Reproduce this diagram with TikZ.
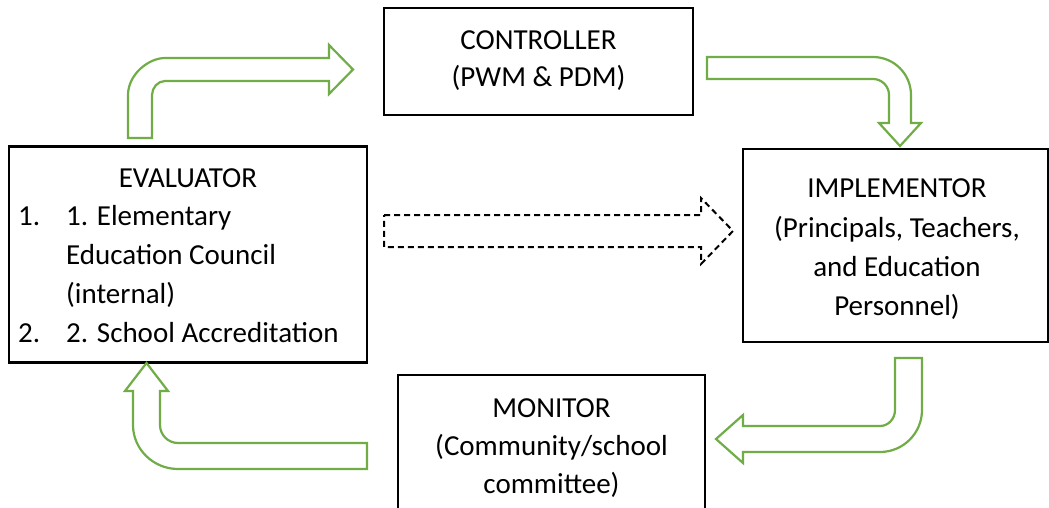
\documentclass[tikz,border=0pt]{standalone}
\usepackage{fontspec}
\setmainfont{Carlito}
\begin{document}
\begin{tikzpicture}[x=1pt,y=-1pt,
  box/.style={draw=black,line width=2.2pt,rectangle,inner sep=0pt,fill=none},
  txt/.style={inner sep=0pt,font=\fontsize{29}{39}\selectfont},
  garrow/.style={draw=arrowgreen,line width=2.2pt,line join=miter,fill=white},
  darrow/.style={draw=black,line width=2pt,dash pattern=on 6pt off 4pt,fill=none}]
\definecolor{arrowgreen}{RGB}{112,173,71}
\useasboundingbox (0,0) rectangle (1049,508);
\clip (0,0) rectangle (1049,508);
% boxes
\node[box,minimum width=358pt,minimum height=216pt] (eval) at (188,254.5) {};
\node[box,minimum width=309pt,minimum height=107pt] (ctrl) at (538.5,61.5) {};
\node[box,minimum width=305pt,minimum height=193pt] (impl) at (895.5,245.5) {};
\node[box,minimum width=307pt,minimum height=150pt] (mon) at (551.5,450) {};
% texts
\node[txt,anchor=base] (ctrlA) at (538.5,50) {CONTROLLER};
\node[txt,anchor=base] (ctrlB) at (538.5,87) {(PWM \& PDM)};
\node[txt,anchor=base] (evalA) at (188,187) {EVALUATOR};
\node[txt,anchor=base west] (evalN1) at (18,225) {1.};
\node[txt,anchor=base west] (evalB) at (66,225) {1. Elementary};
\node[txt,anchor=base west] (evalC) at (66,264) {Education Council};
\node[txt,anchor=base west] (evalD) at (66,303) {(internal)};
\node[txt,anchor=base west] (evalN2) at (18,342) {2.};
\node[txt,anchor=base west] (evalE) at (66,342) {2. School Accreditation};
\node[txt,anchor=base] (implA) at (897,197) {IMPLEMENTOR};
\node[txt,anchor=base] (implB) at (897,237) {(Principals, Teachers,};
\node[txt,anchor=base] (implC) at (897,276) {and Education};
\node[txt,anchor=base] (implD) at (897,315) {Personnel)};
\node[txt,anchor=base] (monA) at (551.5,417) {MONITOR};
\node[txt,anchor=base] (monB) at (551.5,455) {(Community/school};
\node[txt,anchor=base] (monC) at (551.5,493) {committee)};
% evaluator -> controller
\draw[garrow] (128,138) -- (128,95) .. controls (128,74.6) and (148.4,58) .. (165,58)
  -- (329,58) -- (329,45) -- (353,69.5) -- (329,94) -- (329,81) -- (165,81)
  .. controls (157.8,81) and (152,87.8) .. (152,95) -- (152,138) -- cycle;
% controller -> implementor
\draw[garrow] (707,57) -- (873,57) .. controls (894,57) and (911,74) .. (911,95)
  -- (911,123) -- (921,123) -- (900,146) -- (879,123) -- (889,123) -- (889,95)
  .. controls (889,86.2) and (881.8,79) .. (873,79) -- (707,79) -- cycle;
% implementor -> monitor
\draw[garrow] (895,358) -- (922,358) -- (922,410) .. controls (922,433.2) and (903.2,452) .. (880,452)
  -- (743,452) -- (743,463) -- (716,439) -- (743,415) -- (743,426) -- (880,426)
  .. controls (888.3,426) and (895,418.8) .. (895,410) -- cycle;
% monitor -> evaluator
\draw[garrow] (367,443) -- (178,443) .. controls (168.1,443) and (160,434.9) .. (160,425)
  -- (160,391) -- (168,391) -- (146.5,363) -- (125,391) -- (133,391) -- (133,425)
  .. controls (133,449.3) and (153.4,469) .. (178,469) -- (367,469) -- cycle;
% evaluator -> implementor (dashed)
\draw[darrow] (384,215) -- (701,215) -- (701,198) -- (733,231) -- (701,264) -- (701,247) -- (384,247) -- cycle;
\end{tikzpicture}
\end{document}
